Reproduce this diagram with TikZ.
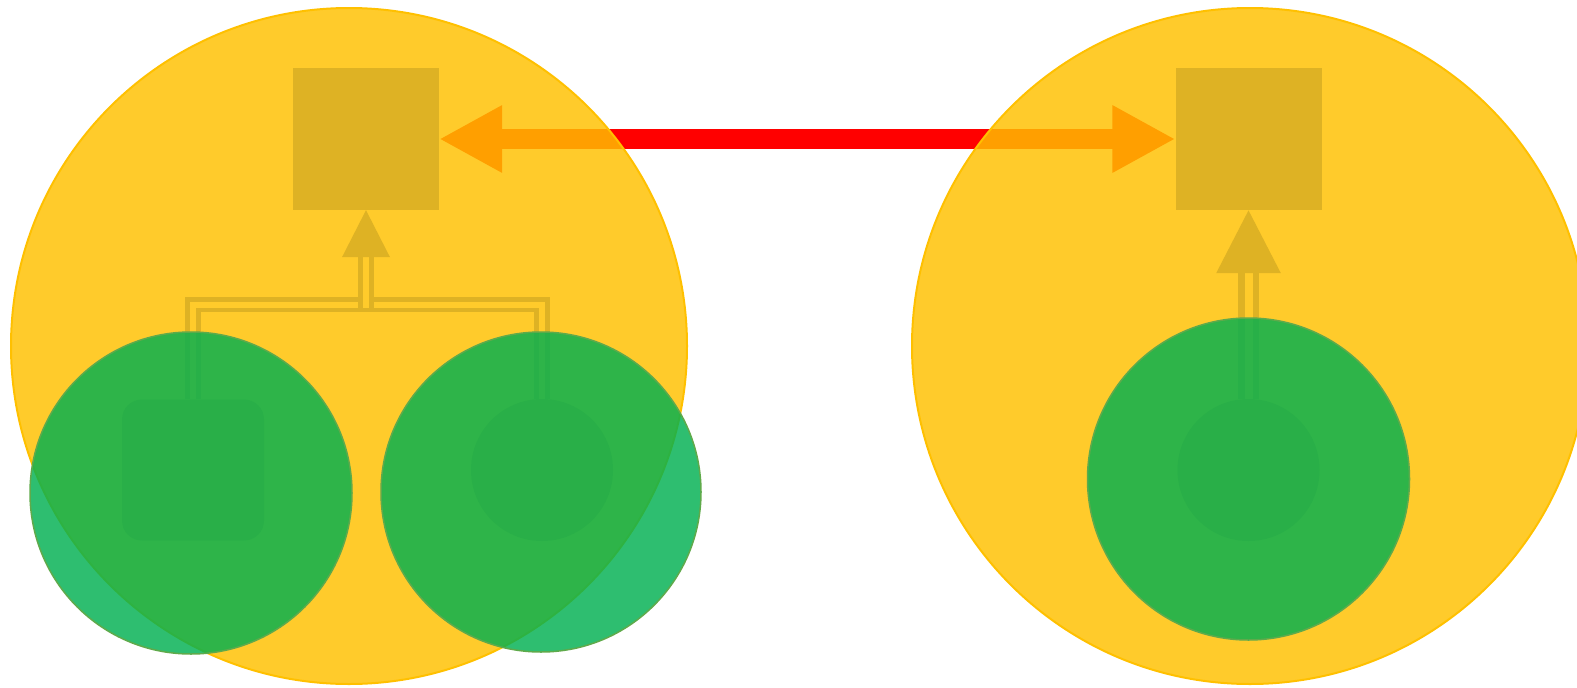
\documentclass[tikz,border=0pt]{standalone}
\usetikzlibrary{arrows.meta,calc}
\pgfdeclarelayer{redl}
\pgfdeclarelayer{yel}
\pgfdeclarelayer{grn}
\pgfdeclarelayer{inn}
\pgfsetlayers{redl,yel,main,grn,inn}
\definecolor{ybase}{RGB}{255,192,0}
\definecolor{ygap}{RGB}{255,203,43}
\definecolor{sqc}{RGB}{222,178,36}
\definecolor{gbase}{RGB}{0,176,80}
\definecolor{gedge}{RGB}{95,170,75}
\definecolor{ginner}{RGB}{41,175,72}
\definecolor{redc}{RGB}{255,0,0}
\begin{document}
\begin{tikzpicture}[x=1pt,y=-1pt,
  bigc/.style={circle,minimum size=676pt,inner sep=0pt,fill=ybase,fill opacity=0.83,draw=ybase,line width=2pt},
  sq/.style={rectangle,minimum width=146pt,minimum height=142pt,inner sep=0pt,fill=sqc},
  gc/.style={circle,minimum size=322pt,inner sep=0pt,fill=gbase,fill opacity=0.82,draw=gedge,line width=1.5pt},
  innr/.style={rectangle,rounded corners=20pt,minimum width=142pt,minimum height=141pt,inner sep=0pt,fill=ginner},
  innc/.style={circle,minimum size=142pt,inner sep=0pt,fill=ginner},
  redarrow/.style={line width=20pt,draw=redc,{Triangle[length=63pt,width=63pt]}-{Triangle[length=63pt,width=63pt]}},
  strand/.style={draw=sqc,line width=4.8pt,line cap=butt,line join=miter},
  dlinkbig/.style={draw=sqc,line width=6.5pt,double=ygap,double distance=8pt,-{Triangle[length=63pt,width=63pt]}}
]
\useasboundingbox (0,0) rectangle (1577,688);
\begin{pgfonlayer}{yel}
\node[bigc] (YL) at (349,346) {};
\node[bigc] (YR) at (1250,346) {};
\end{pgfonlayer}
\node[sq] (SL) at (366,139) {};
\node[sq] (SR) at (1248.5,139) {};
\begin{pgfonlayer}{grn}
\node[gc] (G1) at (191,493) {};
\node[gc,minimum size=320pt] (G2) at (541,492) {};
\node[gc] (G3) at (1248.5,479) {};
\end{pgfonlayer}
\begin{pgfonlayer}{inn}
\node[innr] (R1) at (193,470) {};
\node[innc] (C2) at (542,470) {};
\node[innc] (C3) at (1248.5,470) {};
\end{pgfonlayer}
\begin{pgfonlayer}{redl}
\draw[redarrow] (SL.east) -- (SR.west);
\end{pgfonlayer}
% junction of the two double links and base of the left arrow head
\coordinate (J) at (366,304.5);
\coordinate (TB) at ($(SL.south)+(0,47)$);
% left branch (two strands)
\draw[strand] ($(R1.north)+(-5.4,0)$) |- ($(J)+(-5.4,-5.4)$) -- ($(TB)+(-5.4,0)$);
\draw[strand] ($(R1.north)+(5.4,0)$) |- ($(J)+(5.4,5.4)$) -- ($(TB)+(5.4,0)$);
% right branch (two strands)
\draw[strand] ($(C2.north)+(5.4,0)$) |- ($(J)+(5.4,-5.4)$) -- ($(TB)+(5.4,0)$);
\draw[strand] ($(C2.north)+(-5.4,0)$) |- ($(J)+(-5.4,5.4)$) -- ($(TB)+(-5.4,0)$);
% left arrow head
\fill[sqc] (SL.south) -- ($(TB)+(-24,0)$) -- ($(TB)+(24,0)$) -- cycle;
% right link
\draw[dlinkbig] (C3.north) -- (SR.south);
\end{tikzpicture}
\end{document}
